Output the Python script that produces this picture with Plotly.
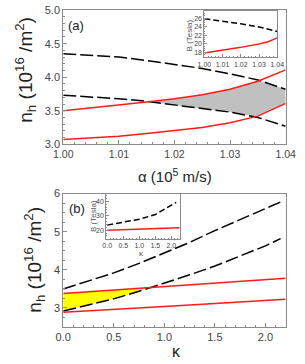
import numpy as np
import plotly.graph_objects as go

W, H = 305, 364

# ---------------- data: panel (a) ----------------
alpha = [1.000, 1.005, 1.010, 1.015, 1.020, 1.025, 1.030, 1.035, 1.040]
a_dash_upper = [4.35, 4.33, 4.30, 4.25, 4.19, 4.13, 4.05, 3.96, 3.82]
a_dash_lower = [3.73, 3.71, 3.68, 3.64, 3.59, 3.54, 3.48, 3.40, 3.27]
a_red_upper = [3.50, 3.54, 3.58, 3.63, 3.68, 3.74, 3.82, 3.94, 4.11]
a_red_lower = [3.07, 3.09, 3.12, 3.16, 3.20, 3.25, 3.32, 3.42, 3.61]

# inset (a)
ia_alpha = [1.00, 1.01, 1.02, 1.03, 1.035, 1.04]
ia_dash = [25.85, 25.35, 24.70, 23.95, 23.50, 22.90]
ia_red = [17.9, 18.5, 19.2, 20.0, 20.5, 21.4]

# ---------------- data: panel (b) ----------------
kappa_d = [0.0, 0.25, 0.5, 0.75, 1.0, 1.25, 1.5, 1.75, 2.0, 2.15]
b_dash_upper = [3.50, 3.70, 3.92, 4.17, 4.44, 4.72, 5.03, 5.32, 5.60, 5.78]
b_dash_lower = [2.92, 3.07, 3.24, 3.44, 3.65, 3.87, 4.10, 4.36, 4.63, 4.82]
kappa_r = [0.0, 0.5, 1.0, 1.5, 2.0, 2.2]
b_red_upper = [3.38, 3.47, 3.56, 3.65, 3.74, 3.78]
b_red_lower = [2.89, 2.96, 3.04, 3.12, 3.20, 3.23]

# inset (b)
ib_kappa_d = [0.0, 0.5, 1.0, 1.5, 2.0, 2.15]
ib_dash = [23.5, 25.4, 27.6, 30.8, 37.0, 39.3]
ib_kappa_r = [0.0, 1.0, 2.25]
ib_red = [20.0, 20.8, 21.7]

# tick labels
a_xticks = [1.00, 1.01, 1.02, 1.03, 1.04]
a_yticks = [3.0, 3.5, 4.0, 4.5, 5.0]
b_xticks = [0.0, 0.5, 1.0, 1.5, 2.0]
b_yticks = [3, 4, 5, 6]
ia_yticks = [18, 20, 22, 24, 26]
ib_yticks = [20, 30, 40]


def px(x):
    return x / W


def py(y):
    return 1 - y / H


RED = "#ff1a1a"
FRAME = "#8a8a8a"
TICKC = "#444444"
FONT = "Liberation Sans, Arial, sans-serif"

fig = go.Figure()

# ---- shaded regions (computed from the curves) ----
ga = np.linspace(alpha[0], alpha[-1], 401)
lo_a = np.maximum(np.interp(ga, alpha, a_red_lower), np.interp(ga, alpha, a_dash_lower))
hi_a = np.minimum(np.interp(ga, alpha, a_red_upper), np.interp(ga, alpha, a_dash_upper))
m = hi_a > lo_a
xs = ga[m]
fig.add_trace(go.Scatter(x=np.concatenate([xs, xs[::-1]]),
                         y=np.concatenate([lo_a[m], hi_a[m][::-1]]),
                         fill="toself", fillcolor="#c0c0c0", line=dict(width=0),
                         mode="lines", hoverinfo="skip", xaxis="x", yaxis="y",
                         showlegend=False))

gb = np.linspace(0, 2.15, 431)
lo_b = np.interp(gb, kappa_d, b_dash_lower)
hi_b = np.interp(gb, kappa_r, b_red_upper)
mb = hi_b > lo_b
xb = gb[mb]
fig.add_trace(go.Scatter(x=np.concatenate([xb, xb[::-1]]),
                         y=np.concatenate([lo_b[mb], hi_b[mb][::-1]]),
                         fill="toself", fillcolor="#ffff00", line=dict(width=0),
                         mode="lines", hoverinfo="skip", xaxis="x2", yaxis="y2",
                         showlegend=False))

dash_main = "13px,4px"
dash_ins = "6px,3px"

# ---- panel (a) lines ----
for yv in (a_dash_upper, a_dash_lower):
    fig.add_trace(go.Scatter(x=alpha, y=yv, mode="lines", xaxis="x", yaxis="y",
                             line=dict(color="black", width=1.5, dash=dash_main),
                             showlegend=False))
for yv in (a_red_upper, a_red_lower):
    fig.add_trace(go.Scatter(x=alpha, y=yv, mode="lines", xaxis="x", yaxis="y",
                             line=dict(color=RED, width=1.5), showlegend=False))

# ---- panel (b) lines ----
for yv in (b_dash_upper, b_dash_lower):
    fig.add_trace(go.Scatter(x=kappa_d, y=yv, mode="lines", xaxis="x2", yaxis="y2",
                             line=dict(color="black", width=1.5, dash=dash_main),
                             showlegend=False))
for yv in (b_red_upper, b_red_lower):
    fig.add_trace(go.Scatter(x=kappa_r, y=yv, mode="lines", xaxis="x2", yaxis="y2",
                             line=dict(color=RED, width=1.5), showlegend=False))

# ---- insets ----
fig.add_trace(go.Scatter(x=ia_alpha, y=ia_dash, mode="lines", xaxis="x3", yaxis="y3",
                         line=dict(color="black", width=1.5, dash=dash_ins), showlegend=False))
fig.add_trace(go.Scatter(x=ia_alpha, y=ia_red, mode="lines", xaxis="x3", yaxis="y3",
                         line=dict(color=RED, width=1.5), showlegend=False))
fig.add_trace(go.Scatter(x=ib_kappa_d, y=ib_dash, mode="lines", xaxis="x4", yaxis="y4",
                         line=dict(color="black", width=1.5, dash=dash_ins), showlegend=False))
fig.add_trace(go.Scatter(x=ib_kappa_r, y=ib_red, mode="lines", xaxis="x4", yaxis="y4",
                         line=dict(color=RED, width=1.5), showlegend=False))


def ax(domain, rng, tickvals, fmt, size, minor_dtick, anchor, ticklen=4):
    return dict(domain=domain, range=rng, tickvals=tickvals, tickformat=fmt,
                ticks="inside", ticklen=ticklen, tickcolor=FRAME, tickwidth=1,
                showline=True, mirror=True, linecolor=FRAME, linewidth=1,
                showgrid=False, zeroline=False, anchor=anchor,
                ticklabeloverflow="allow",
                tickfont=dict(size=size, color=TICKC, family=FONT),
                minor=dict(ticks="inside", ticklen=max(1, ticklen // 2), dtick=minor_dtick,
                           tickcolor=FRAME, showgrid=False))


xa_dom = [px(57), px(295)]
fig.update_layout(
    width=W, height=H, margin=dict(l=0, r=0, t=0, b=0),
    paper_bgcolor="white", plot_bgcolor="white",
    font=dict(family=FONT),
    xaxis=ax(xa_dom, [1.0, 1.04], a_xticks, ".2f", 10.5, 0.002, "y"),
    yaxis=ax([py(143), py(4.3)], [3.0, 5.0], a_yticks, ".1f", 11, 0.1, "x"),
    xaxis2=ax(xa_dom, [0, 2.2], b_xticks, ".1f", 11, 0.1, "y2"),
    yaxis2=ax([py(332), py(194)], [2.5, 6.0], b_yticks, "d", 11, 0.25, "x2"),
    xaxis3=ax([px(208), px(286)], [1.0, 1.04], a_xticks, ".2f", 7, 0.002, "y3", 3),
    yaxis3=ax([py(53), py(5)], [16.9, 27.7], ia_yticks, "d", 7, 0.5, "x3", 3),
    xaxis4=ax([px(103), px(182)], [-0.03, 2.27], b_xticks, ".1f", 7, 0.1, "y4", 3),
    yaxis4=ax([py(240.5), py(194)], [14.2, 45.3], ib_yticks, "d", 7, 2, "x4", 3),
)

ann = []
tfont = dict(family=FONT, size=19, color="#222")
ann.append(dict(text="n<sub>h</sub> (10<sup>16</sup> /m<sup>2</sup>)", x=px(17), y=py(66),
                textangle=-90, font=tfont))
ann.append(dict(text="n<sub>h</sub> (10<sup>16</sup> /m<sup>2</sup>)", x=px(26), y=py(262),
                textangle=-90, font=tfont))
ann.append(dict(text="α (10<sup>5</sup> m/s)", x=px(177), y=py(175),
                font=dict(family=FONT, size=15, color="#222")))
ann.append(dict(text="κ", x=px(178), y=py(357),
                font=dict(family=FONT, size=16, color="#222")))
ann.append(dict(text="(a)", x=px(71), y=py(20), font=dict(family=FONT, size=13, color="#222")))
ann.append(dict(text="(b)", x=px(72), y=py(209), font=dict(family=FONT, size=13, color="#222")))
sfont = dict(family=FONT, size=8, color="#555")
ann.append(dict(text="B (Tesla)", x=px(192), y=py(30), textangle=-90, font=sfont))
ann.append(dict(text="B (Tesla)", x=px(90), y=py(217), textangle=-90, font=sfont))
ann.append(dict(text="κ", x=px(141), y=py(256), font=dict(family=FONT, size=8, color="#555")))
for a in ann:
    a.update(xref="paper", yref="paper", showarrow=False, xanchor="center", yanchor="middle")
fig.update_layout(annotations=ann)

fig.write_html("out.html", config={"displayModeBar": False},
               post_script="document.body.style.margin='0px';"
                           "document.body.style.overflow='hidden';")
